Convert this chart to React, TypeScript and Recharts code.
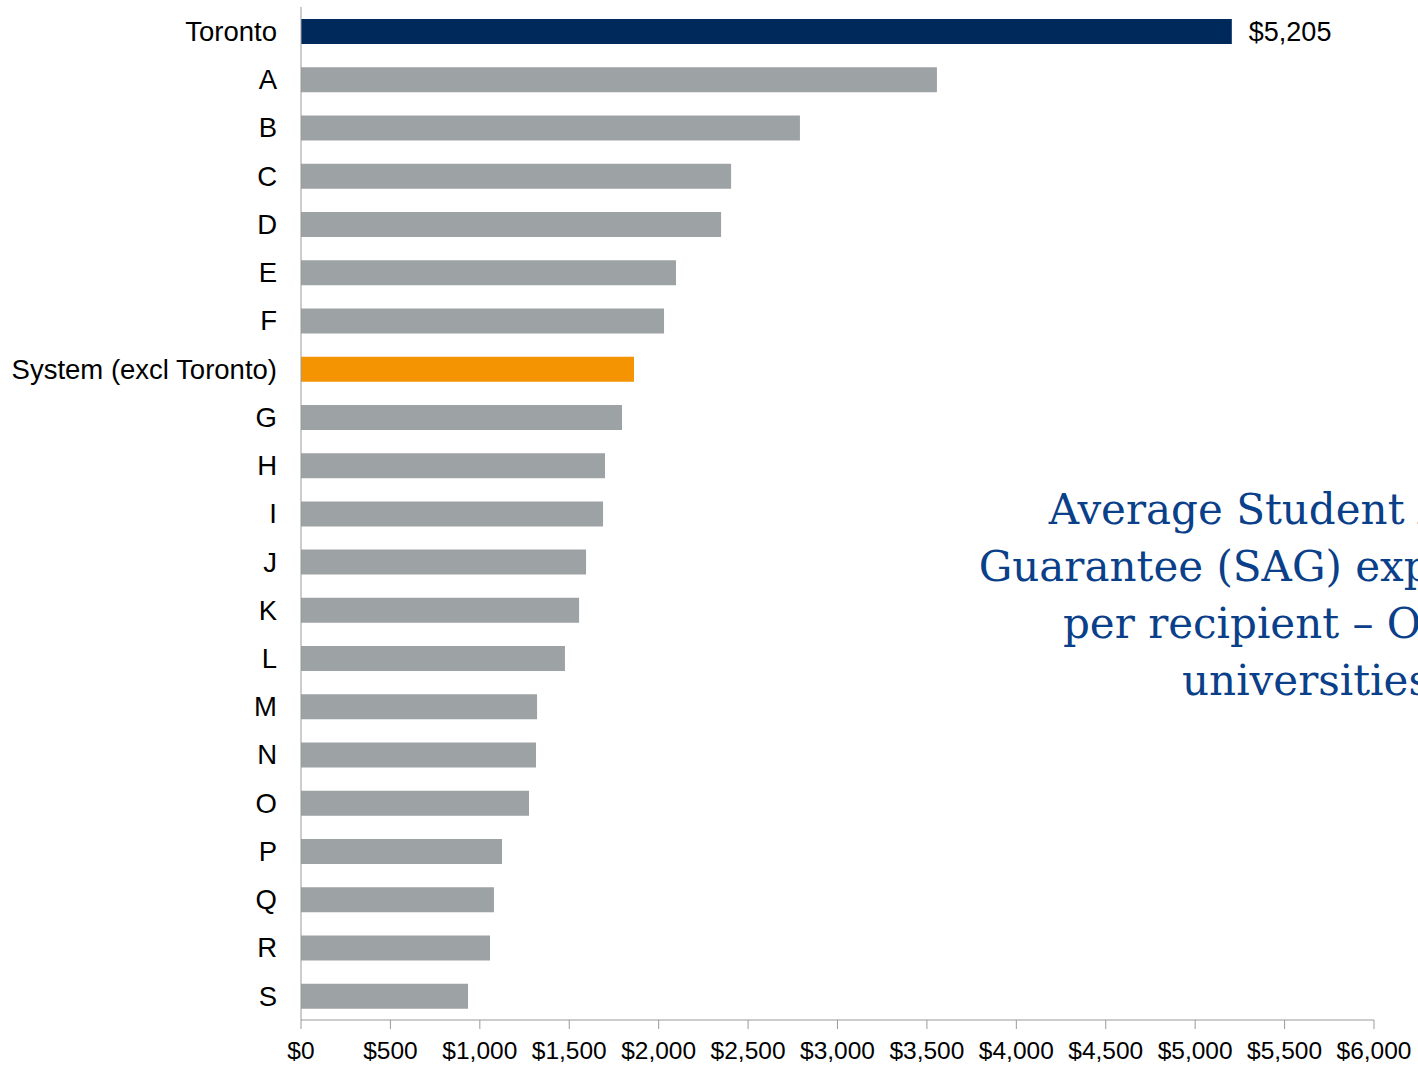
import { BarChart, Bar, XAxis, YAxis, Cell, LabelList } from 'recharts';

// Institutions, top to bottom
const institutions = [
  'Toronto', 'A', 'B', 'C', 'D', 'E', 'F', 'System (excl Toronto)', 'G', 'H',
  'I', 'J', 'K', 'L', 'M', 'N', 'O', 'P', 'Q', 'R', 'S',
];

// Average SAG expenditure per recipient ($)
const sagPerRecipient = [
  5205, 3556, 2790, 2405, 2349, 2097, 2030, 1862, 1795, 1700,
  1689, 1594, 1555, 1476, 1320, 1314, 1275, 1124, 1079, 1057, 934,
];

const xTicks = [0, 500, 1000, 1500, 2000, 2500, 3000, 3500, 4000, 4500, 5000, 5500, 6000];

const titleLines = [
  'Average Student Access',
  'Guarantee (SAG) expenditures',
  'per recipient – Ontario',
  'universities',
];

const TORONTO = '#00295B';
const SYSTEM = '#F59402';
const OTHER = '#9DA2A5';

const fmt = (v: number) => '$' + v.toLocaleString('en-US');

const chartData = institutions.map((name, i) => ({
  name,
  value: sagPerRecipient[i],
  label: name === 'Toronto' ? fmt(sagPerRecipient[i]) : null,
}));

const barColor = (name: string) =>
  name === 'Toronto' ? TORONTO : name.startsWith('System') ? SYSTEM : OTHER;

export default function App() {
  return (
    <div
      style={{
        position: 'absolute',
        left: 0,
        top: 0,
        width: 1418,
        height: 1065,
        overflow: 'hidden',
        background: '#fff',
        fontFamily: '"Liberation Sans", Arial, sans-serif',
      }}
    >
      <BarChart
        width={1418}
        height={1065}
        data={chartData}
        layout="vertical"
        margin={{ top: 7, right: 44, bottom: 0, left: 0 }}
        barSize={25}
      >
        <XAxis
          type="number"
          domain={[0, 6000]}
          ticks={xTicks}
          interval={0}
          tickFormatter={fmt}
          height={45}
          tickSize={9}
          tickMargin={13}
          stroke="#9a9a9a"
          tick={{ fill: '#000', fontSize: 24.5 }}
        />
        <YAxis
          type="category"
          dataKey="name"
          width={301}
          interval={0}
          tickSize={0}
          tickMargin={24}
          stroke="#9a9a9a"
          tick={{ fill: '#000', fontSize: 27.5 }}
        />
        <Bar dataKey="value" isAnimationActive={false}>
          {chartData.map((d) => (
            <Cell key={d.name} fill={barColor(d.name)} />
          ))}
          <LabelList dataKey="label" position="right" offset={17} fill="#000" fontSize={27} />
        </Bar>
      </BarChart>
      <div
        style={{
          position: 'absolute',
          left: 906,
          top: 481,
          width: 800,
          textAlign: 'center',
          fontFamily: '"DejaVu Serif", Georgia, serif',
          fontSize: 42,
          lineHeight: '57px',
          color: '#0A4089',
          whiteSpace: 'nowrap',
        }}
      >
        {titleLines.map((t) => (
          <div key={t}>{t}</div>
        ))}
      </div>
    </div>
  );
}
